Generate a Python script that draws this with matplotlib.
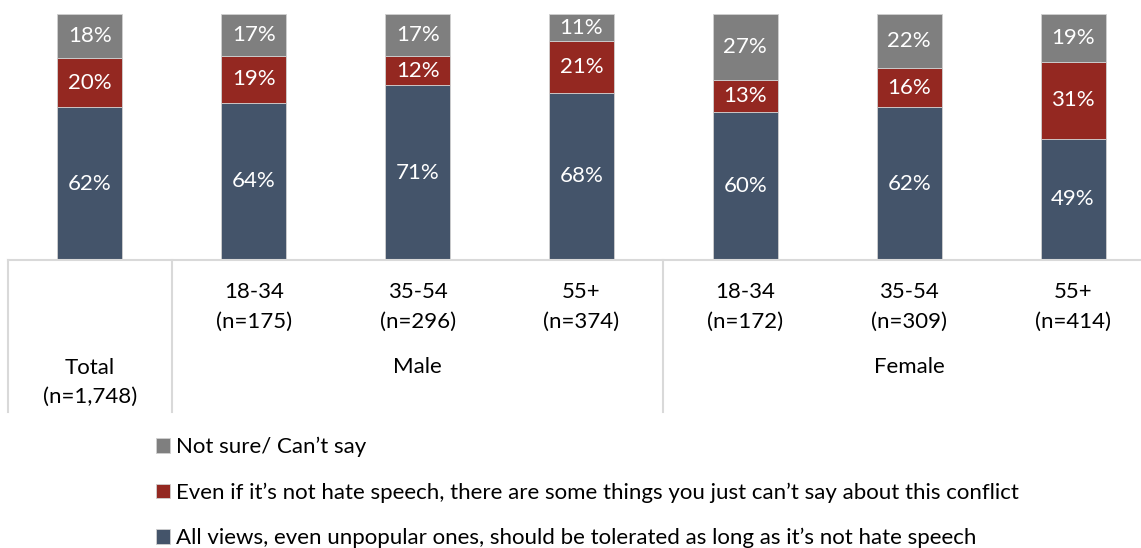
import numpy as np
import matplotlib.pyplot as plt
from matplotlib.lines import Line2D

plt.rcParams['font.family'] = ['Lato', 'DejaVu Sans']

# data (percent)
ages = ['', '18-34', '35-54', '55+', '18-34', '35-54', '55+']
sizes = ['(n=1,748)', '(n=175)', '(n=296)', '(n=374)', '(n=172)', '(n=309)', '(n=414)']
groups = ['Total', 'Male', 'Female']
tolerated = [62, 64, 71, 68, 60, 62, 49.3]
cant_say = [20, 19, 12, 21, 13, 16, 31.3]
not_sure = [18, 17, 17, 11, 27, 22, 19.4]

series_names = ['All views, even unpopular ones, should be tolerated as long as it\u2019s not hate speech',
                'Even if it\u2019s not hate speech, there are some things you just can\u2019t say about this conflict',
                'Not sure/ Can\u2019t say']
colors = ['#44546A', '#942821', '#7F7F7F']

W, H = 1141, 548
FS = 16
fig = plt.figure(figsize=(W / 100, H / 100), dpi=100)
# axis runs a little past the right edge, like the cropped original
ax = fig.add_axes([8 / W, (H - 260) / H, 1147 / W, 246 / H])
px = 246 / 100  # pixels per percent point

x = np.arange(len(tolerated))
bottom = np.zeros(len(x))
bars = []
for vals, col in zip([tolerated, cant_say, not_sure], colors):
    vals = np.array(vals)
    b = ax.bar(x, vals, 0.397, bottom=bottom, color=col, edgecolor='#D0D0D0', linewidth=0.6)
    bars.append(b)
    for xi, bo, v in zip(x, bottom, vals):
        ax.text(xi, bo + v / 2, f'{v:.0f}%', ha='center', va='center', color='white', fontsize=FS)
    bottom += vals

ax.set_xlim(-0.5, 6.5)
ax.set_ylim(0, 100)
ax.axis('off')

# category axis line and separators
line_col = '#D9D9D9'
ax.plot([-0.5, 6.5], [0, 0], color=line_col, lw=1.5, clip_on=False)
for xs in [-0.5, 0.5, 3.5]:
    ax.add_line(Line2D([xs, xs], [0, -152 / px], color=line_col, lw=1.5, clip_on=False))

def below(py):
    # pixel row in the picture -> data y under the baseline
    return -(py - 260) / px

for xi, a, s in zip(x, ages, sizes):
    if a:
        ax.text(xi, below(292), a, ha='center', va='center', fontsize=FS, clip_on=False)
        ax.text(xi, below(322), s, ha='center', va='center', fontsize=FS, clip_on=False)
    else:
        ax.text(xi, below(368), groups[0], ha='center', va='center', fontsize=FS, clip_on=False)
        ax.text(xi, below(397), s, ha='center', va='center', fontsize=FS, clip_on=False)

ax.text(2, below(367), groups[1], ha='center', va='center', fontsize=FS, clip_on=False)
ax.text(5, below(367), groups[2], ha='center', va='center', fontsize=FS, clip_on=False)

handles = [bars[2], bars[1], bars[0]]
labels = [series_names[2], series_names[1], series_names[0]]
fig.legend(handles, labels, loc='upper left', bbox_to_anchor=(156 / W, 1 - 437 / H),
           frameon=False, fontsize=FS, handlelength=0.65, handleheight=0.65,
           handletextpad=0.25, labelspacing=1.13, borderaxespad=0, borderpad=0)

fig.savefig('out.png', dpi=100)
